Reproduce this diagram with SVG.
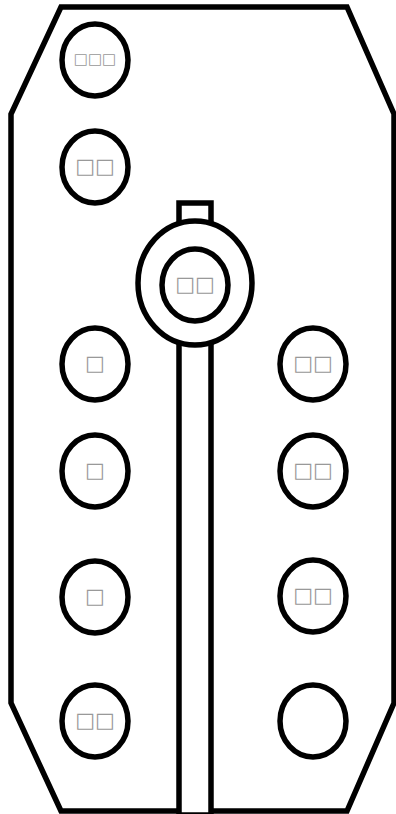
<svg xmlns="http://www.w3.org/2000/svg" width="396" height="814" viewBox="0 0 396 814">
<style>
.o{fill:#fff;stroke:#000;stroke-width:5.5}
.t{font-family:"DejaVu Sans",sans-serif;font-size:21px;fill:#999;text-anchor:middle;dominant-baseline:central}
.s{font-size:15px}
</style>
<g id="frame"><polygon class="o" points="61,7 347,7 394,114 394,703 347,811 61,811 11,703 11,114"/></g>
<g id="stem"><rect class="o" x="179" y="203" width="32" height="612"/></g>
<g id="hub"><ellipse class="o" cx="195" cy="283" rx="57" ry="62"/></g>
<g id="n0"><ellipse class="o" cx="195" cy="285" rx="33" ry="36"/><text class="t" x="195" y="284">□□</text></g>
<g id="n1"><ellipse class="o" cx="95" cy="60" rx="33" ry="36"/><text class="t s" x="95" y="59">□□□</text></g>
<g id="n2"><ellipse class="o" cx="95" cy="167" rx="33" ry="36"/><text class="t" x="95" y="166">□□</text></g>
<g id="n3"><ellipse class="o" cx="95" cy="364" rx="33" ry="36"/><text class="t" x="95" y="363">□</text></g>
<g id="n4"><ellipse class="o" cx="95" cy="471" rx="33" ry="36"/><text class="t" x="95" y="470">□</text></g>
<g id="n5"><ellipse class="o" cx="95" cy="597" rx="33" ry="36"/><text class="t" x="95" y="596">□</text></g>
<g id="n6"><ellipse class="o" cx="95" cy="721" rx="33" ry="36"/><text class="t" x="95" y="720">□□</text></g>
<g id="n7"><ellipse class="o" cx="313" cy="364" rx="33" ry="36"/><text class="t" x="313" y="363">□□</text></g>
<g id="n8"><ellipse class="o" cx="313" cy="471" rx="33" ry="36"/><text class="t" x="313" y="470">□□</text></g>
<g id="n9"><ellipse class="o" cx="313" cy="596" rx="33" ry="36"/><text class="t" x="313" y="595">□□</text></g>
<g id="n10"><ellipse class="o" cx="313" cy="721" rx="33" ry="36"/></g>
<g id="connectors"/>
</svg>
